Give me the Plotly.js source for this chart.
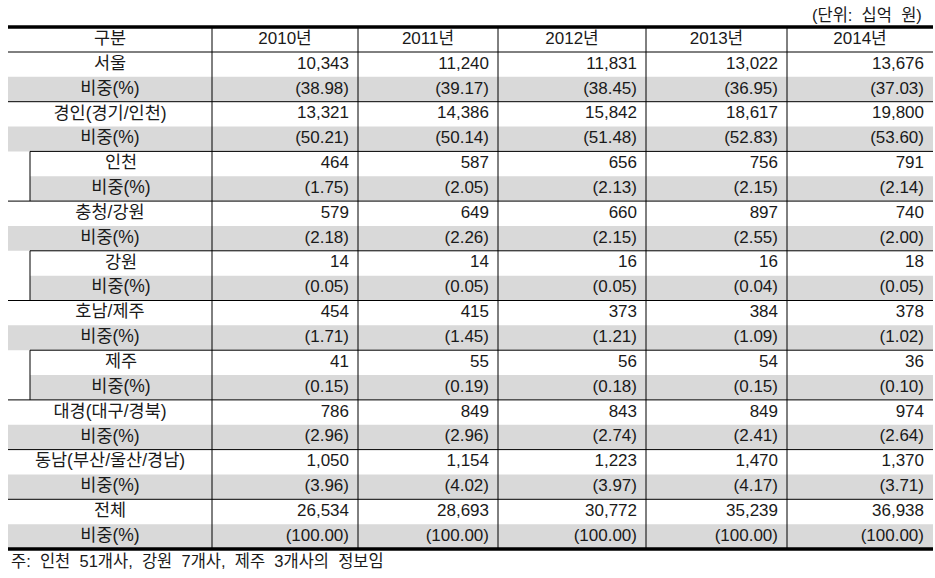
<!DOCTYPE html>
<html>
<head>
<meta charset="utf-8">
<script src="https://cdn.plot.ly/plotly-3.0.1.min.js"></script>
<style>html,body{margin:0;padding:0;background:#fff;}#chart{width:935px;height:578px;}</style>
</head>
<body>
<div id="chart"></div>
<script>
// ---------- data ----------
const years = ['2010년', '2011년', '2012년', '2013년', '2014년'];
const headerLabel = '구분';
const shareLabel = '비중(%)';
const unitLabel = '(단위:\u00a0 십억\u00a0 원)';
const noteLabel = '주:\u00a0 인천\u00a0 51개사,\u00a0 강원\u00a0 7개사,\u00a0 제주\u00a0 3개사의\u00a0 정보임';

const regions = ['서울', '경인(경기/인천)', '인천', '충청/강원', '강원', '호남/제주', '제주', '대경(대구/경북)', '동남(부산/울산/경남)', '전체'];
const subRegion = [false, false, true, false, true, false, true, false, false, false];

const seoul = [10343, 11240, 11831, 13022, 13676];
const seoulShare = [38.98, 39.17, 38.45, 36.95, 37.03];
const gyeongin = [13321, 14386, 15842, 18617, 19800];
const gyeonginShare = [50.21, 50.14, 51.48, 52.83, 53.60];
const incheon = [464, 587, 656, 756, 791];
const incheonShare = [1.75, 2.05, 2.13, 2.15, 2.14];
const chungcheongGangwon = [579, 649, 660, 897, 740];
const chungcheongGangwonShare = [2.18, 2.26, 2.15, 2.55, 2.00];
const gangwon = [14, 14, 16, 16, 18];
const gangwonShare = [0.05, 0.05, 0.05, 0.04, 0.05];
const honamJeju = [454, 415, 373, 384, 378];
const honamJejuShare = [1.71, 1.45, 1.21, 1.09, 1.02];
const jeju = [41, 55, 56, 54, 36];
const jejuShare = [0.15, 0.19, 0.18, 0.15, 0.10];
const daegyeong = [786, 849, 843, 849, 974];
const daegyeongShare = [2.96, 2.96, 2.74, 2.41, 2.64];
const dongnam = [1050, 1154, 1223, 1470, 1370];
const dongnamShare = [3.96, 4.02, 3.97, 4.17, 3.71];
const total = [26534, 28693, 30772, 35239, 36938];
const totalShare = [100.00, 100.00, 100.00, 100.00, 100.00];

const amounts = [seoul, gyeongin, incheon, chungcheongGangwon, gangwon, honamJeju, jeju, daegyeong, dongnam, total];
const shares = [seoulShare, gyeonginShare, incheonShare, chungcheongGangwonShare, gangwonShare, honamJejuShare, jejuShare, daegyeongShare, dongnamShare, totalShare];

// ---------- layout geometry (pixel-like axis units) ----------
const W = 935, H = 578;
const mL = 6, mR = 0, mT = 24, mB = 26;
const xr = [-2, 927], yr = [525, -3];
const colEdges = [0, 204, 350, 490, 638, 779, 925];
const indentX = 22;
const headerH = 25;
const rowH = 24.85;
const pad = 9;
const nRows = regions.length * 2;
const tableBottom = headerH + nRows * rowH;

const fontFam = 'Liberation Sans, Noto Sans CJK KR, sans-serif';
const txtColor = '#1a1a1a';
const grayFill = '#d9d9d9';

function rowTop(i) { return headerH + i * rowH; }
function rowMid(i) { return rowTop(i) + rowH / 2; }
function fmtAmt(v) { return v.toLocaleString('en-US'); }
function fmtShare(v) { return '(' + v.toFixed(2) + ')'; }

// ---------- text traces ----------
const labX = [], labY = [], labT = [];
labX.push(colEdges[1] / 2); labY.push(headerH / 2); labT.push(headerLabel);
const numX = [], numY = [], numT = [];
const hdX = [], hdY = [], hdT = [];
years.forEach((y, c) => { hdX.push((colEdges[c + 1] + colEdges[c + 2]) / 2); hdY.push(headerH / 2); hdT.push(y); });

regions.forEach((r, k) => {
  const left = subRegion[k] ? indentX : 0;
  const cx = (left + colEdges[1]) / 2;
  const iv = 2 * k, is = 2 * k + 1;
  labX.push(cx, cx); labY.push(rowMid(iv), rowMid(is)); labT.push(r, shareLabel);
  years.forEach((y, c) => {
    const rx = colEdges[c + 2] - pad;
    numX.push(rx, rx); numY.push(rowMid(iv), rowMid(is));
    numT.push(fmtAmt(amounts[k][c]), fmtShare(shares[k][c]));
  });
});

const traces = [
  { type: 'scatter', mode: 'text', x: labX, y: labY, text: labT, textposition: 'middle center',
    textfont: { family: fontFam, size: 17.5, color: txtColor }, hoverinfo: 'skip', cliponaxis: false },
  { type: 'scatter', mode: 'text', x: hdX, y: hdY, text: hdT, textposition: 'middle center',
    textfont: { family: fontFam, size: 17, color: txtColor }, hoverinfo: 'skip', cliponaxis: false },
  { type: 'scatter', mode: 'text', x: numX, y: numY, text: numT, textposition: 'middle left',
    textfont: { family: fontFam, size: 17, color: txtColor }, hoverinfo: 'skip', cliponaxis: false }
];

// ---------- shapes ----------
const shapes = [];
const thin = { color: '#000', width: 1 };
regions.forEach((r, k) => {
  const left = subRegion[k] ? indentX : 0;
  const is = 2 * k + 1;
  shapes.push({ type: 'rect', xref: 'x', yref: 'y', x0: left, x1: colEdges[6], y0: rowTop(is), y1: rowTop(is) + rowH,
    fillcolor: grayFill, line: { width: 0 }, layer: 'below' });
});
// header bottom line
shapes.push({ type: 'line', xref: 'x', yref: 'y', x0: 0, x1: colEdges[6], y0: headerH, y1: headerH, line: thin });
// region separators
regions.forEach((r, k) => {
  if (k === 0) return;
  const left = subRegion[k] ? indentX : 0;
  const y = rowTop(2 * k);
  shapes.push({ type: 'line', xref: 'x', yref: 'y', x0: left, x1: colEdges[6], y0: y, y1: y, line: thin });
  if (subRegion[k]) {
    shapes.push({ type: 'line', xref: 'x', yref: 'y', x0: indentX, x1: indentX, y0: y, y1: rowTop(2 * k + 2), line: thin });
  }
});
// column separators
for (let c = 1; c <= 5; c++) {
  shapes.push({ type: 'line', xref: 'x', yref: 'y', x0: colEdges[c], x1: colEdges[c], y0: 0, y1: tableBottom, line: thin });
}
// thick top and bottom rules
shapes.push({ type: 'line', xref: 'x', yref: 'y', x0: 0, x1: colEdges[6], y0: 0, y1: 0, line: { color: '#000', width: 3.5 } });
shapes.push({ type: 'line', xref: 'x', yref: 'y', x0: 0, x1: colEdges[6], y0: tableBottom, y1: tableBottom, line: { color: '#000', width: 3.5 } });

// ---------- annotations (paper coords from pixel positions) ----------
const pw = W - mL - mR, ph = H - mT - mB;
function pxX(p) { return (p - mL) / pw; }
function pxY(p) { return (H - mB - p) / ph; }
const annotations = [
  { xref: 'paper', yref: 'paper', x: pxX(924), y: pxY(15), xanchor: 'right', yanchor: 'middle', showarrow: false,
    text: unitLabel, font: { family: fontFam, size: 16.5, color: txtColor } },
  { xref: 'paper', yref: 'paper', x: pxX(9), y: pxY(561), xanchor: 'left', yanchor: 'middle', showarrow: false,
    text: noteLabel, font: { family: fontFam, size: 16.5, color: txtColor } }
];

const layout = {
  width: W, height: H,
  margin: { l: mL, r: mR, t: mT, b: mB, pad: 0 },
  paper_bgcolor: '#fff', plot_bgcolor: '#fff',
  showlegend: false,
  xaxis: { range: xr, visible: false, fixedrange: true, showgrid: false, zeroline: false },
  yaxis: { range: yr, visible: false, fixedrange: true, showgrid: false, zeroline: false },
  shapes: shapes,
  annotations: annotations
};

Plotly.newPlot('chart', traces, layout, { displayModeBar: false, staticPlot: true });
</script>
</body>
</html>
